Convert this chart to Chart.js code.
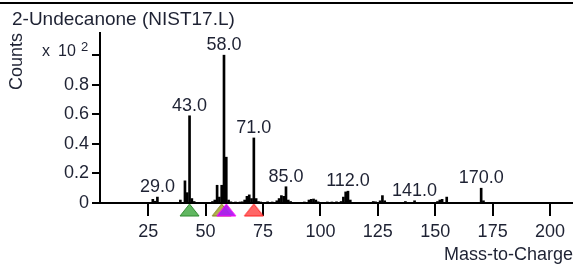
<!DOCTYPE html>
<html>
<head>
<meta charset="utf-8">
<script src="https://cdn.jsdelivr.net/npm/chart.js@4.4.1/dist/chart.umd.min.js"></script>
<style>
  html, body { margin: 0; padding: 0; background: #fff; }
  #spectrum { display: block; }
</style>
</head>
<body>
<canvas id="spectrum" width="573" height="271"></canvas>
<script>
  // data (counts x10^2)
  const massToCharge = [27, 28, 29, 39, 41, 42, 43, 44, 45, 53, 54, 55, 56, 57, 58, 59, 60, 61, 63, 65, 66, 67, 68, 69, 70, 71, 72, 73, 74, 77, 79,
    81, 82, 83, 84, 85, 86, 87, 93, 95, 96, 97, 98, 99, 103, 105, 107, 109, 110, 111, 112, 113, 123, 124, 126, 127, 128,
    137, 141, 151, 152, 153, 155, 170, 171];
  const abundance = [0.025, 0.012, 0.04, 0.02, 0.15, 0.07, 0.59, 0.03, 0.01, 0.01, 0.02, 0.12, 0.04, 0.12, 1.0, 0.31, 0.02, 0.008, 0.005, 0.005, 0.008, 0.02, 0.045, 0.055, 0.03, 0.44, 0.03, 0.01, 0.005, 0.008, 0.006,
    0.015, 0.03, 0.05, 0.045, 0.11, 0.02, 0.01, 0.005, 0.02, 0.025, 0.027, 0.02, 0.008, 0.006, 0.006, 0.008, 0.01, 0.04, 0.075, 0.08, 0.02, 0.01, 0.008, 0.015, 0.05, 0.015,
    0.01, 0.015, 0.01, 0.02, 0.025, 0.04, 0.10, 0.015];
  const labelledPeaks = [29, 43, 58, 71, 85, 112, 141, 170];
  const markerIons = [43, 57, 59, 71];

  const chartTitle = "2-Undecanone (NIST17.L)";
  const textColor = "#1e2233";
  const fontFamily = "'Liberation Sans', Arial, sans-serif";

  // triangle markers under the axis
  const markerColors = [
    { fill: "rgba(80,175,80,0.9)", line: "#2f8a2f" },
    { fill: "rgba(170,170,60,0.9)", line: "#80801a" },
    { fill: "rgba(170,30,240,0.95)", line: "#ff00ff" },
    { fill: "rgba(255,95,95,0.95)", line: "#ff2020" }
  ];

  const makeTriangle = (c) => {
    const cv = document.createElement("canvas");
    cv.width = 21;
    cv.height = 28;
    const g = cv.getContext("2d");
    g.beginPath();
    g.moveTo(10.5, 15);
    g.lineTo(20, 27);
    g.lineTo(1, 27);
    g.closePath();
    g.fillStyle = c.fill;
    g.fill();
    g.strokeStyle = c.line;
    g.lineWidth = 1;
    g.stroke();
    return cv;
  };
  const markerImages = markerColors.map(makeTriangle);

  const peakData = massToCharge.map((m, i) => ({ x: m, y: abundance[i] }));
  const markerData = markerIons.map((m) => ({ x: m, y: 0 }));

  // title, peak labels and the x10^2 note
  const textPlugin = {
    id: "spectrumText",
    afterDraw(chart) {
      const ctx = chart.ctx;
      const xs = chart.scales.x;
      const ys = chart.scales.y;
      ctx.save();
      ctx.fillStyle = "#000";
      ctx.fillRect(0, 2, chart.width, 2);

      ctx.fillStyle = textColor;
      ctx.textBaseline = "alphabetic";
      ctx.textAlign = "left";
      ctx.font = "19px " + fontFamily;
      ctx.fillText(chartTitle, 12, 25);

      const topY = ys.getPixelForValue(1);
      ctx.font = "16px " + fontFamily;
      ctx.fillText("x", 42, topY + 1);
      ctx.fillText("10", 58, topY + 1);
      ctx.font = "13px " + fontFamily;
      ctx.fillText("2", 81, topY - 4);

      ctx.font = "18px " + fontFamily;
      ctx.textAlign = "center";
      labelledPeaks.forEach((m) => {
        const v = abundance[massToCharge.indexOf(m)];
        ctx.fillText(m.toFixed(1), xs.getPixelForValue(m), ys.getPixelForValue(v) - 5);
      });
      ctx.restore();
    }
  };

  Chart.defaults.font.family = fontFamily;
  Chart.defaults.color = textColor;

  new Chart(document.getElementById("spectrum"), {
    type: "bar",
    data: {
      datasets: [
        {
          type: "scatter",
          data: markerData,
          pointStyle: markerImages,
          pointRadius: 1,
          pointHoverRadius: 1,
          clip: false,
          order: 0
        },
        {
          data: peakData,
          backgroundColor: "#000",
          borderWidth: 0,
          barThickness: 2,
          order: 1
        }
      ]
    },
    options: {
      responsive: false,
      animation: false,
      layout: { autoPadding: false, padding: { top: 33, left: 0, right: 0, bottom: 0 } },
      plugins: {
        legend: { display: false },
        tooltip: { enabled: false },
        title: { display: false }
      },
      scales: {
        x: {
          type: "linear",
          min: 4,
          max: 210,
          offset: false,
          afterFit: (scale) => {
            scale.height = 68;
            scale.paddingLeft = 0;
            scale.paddingRight = 0;
          },
          border: { color: "#000", width: 2 },
          grid: { offset: false, drawOnChartArea: false, color: "#000", lineWidth: 2, tickLength: 13 },
          ticks: {
            stepSize: 25,
            includeBounds: false,
            autoSkip: false,
            maxRotation: 0,
            padding: 5,
            color: textColor,
            font: { size: 18 }
          },
          title: {
            display: true,
            text: "Mass-to-Charge",
            align: "end",
            color: textColor,
            font: { size: 18 },
            padding: { top: 0, bottom: 5 }
          }
        },
        y: {
          min: 0,
          max: 1.15,
          afterFit: (scale) => { scale.width = 100; },
          border: { color: "#000", width: 2 },
          grid: { drawOnChartArea: false, color: "#000", lineWidth: 2, tickLength: 8 },
          ticks: {
            stepSize: 0.2,
            includeBounds: false,
            padding: 3,
            color: textColor,
            font: { size: 18 },
            callback: (v) => (v === 0 ? "0" : v > 0.99 ? "" : v.toFixed(1))
          },
          title: {
            display: true,
            text: "Counts",
            align: "end",
            color: textColor,
            font: { size: 18 },
            padding: { top: 6, bottom: 0 }
          }
        }
      }
    },
    plugins: [textPlugin]
  });
</script>
</body>
</html>
